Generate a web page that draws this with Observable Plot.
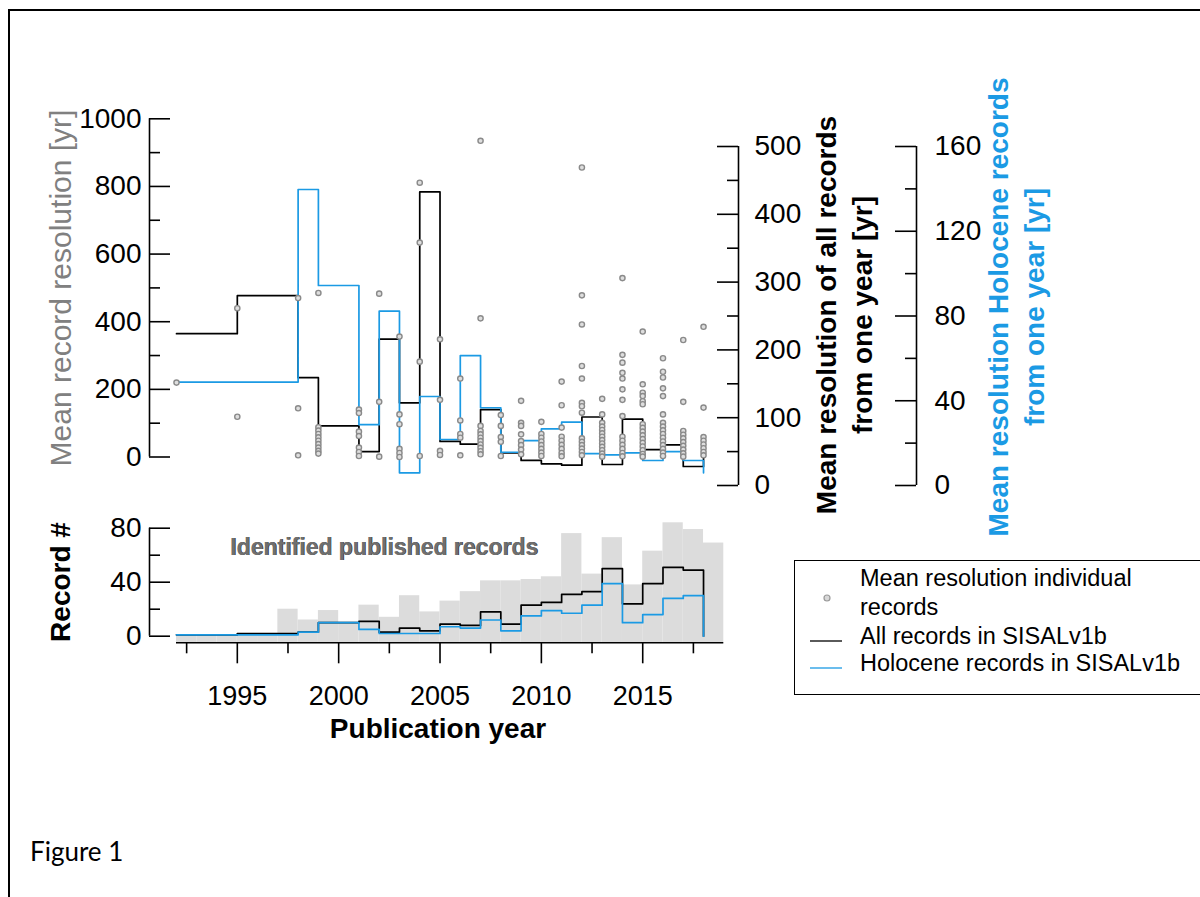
<!DOCTYPE html>
<html><head><meta charset="utf-8">
<script src="https://cdn.jsdelivr.net/npm/d3@7"></script>
<script src="https://cdn.jsdelivr.net/npm/@observablehq/plot@0.6"></script>
<style>
body{margin:0;background:#fff;}
#fig{position:relative;width:1200px;height:897px;overflow:hidden;font-family:"Liberation Sans",Arial,sans-serif;background:#fff;}
#fig svg{position:absolute;left:0;top:0;overflow:visible;font-family:"Liberation Sans",Arial,sans-serif;max-width:none;}
.t{position:absolute;white-space:nowrap;line-height:1;}
.rot{transform:translate(-50%,-50%) rotate(-90deg);}
.ctr{transform:translate(-50%,-50%);}
.lft{transform:translate(0,-50%);}
</style></head><body><div id="fig"></div><script>
// ---------------- data ----------------
const years = [1992,1995,1998,1999,2000,2001,2002,2003,2004,2005,2006,2007,2008,2009,2010,2011,2012,2013,2014,2015,2016,2017,2018];
const allResolution  = [224,280,159,88,88,50,216,122,433,65,61,112,48,37,32,30,101,31,98,53,60,28,48];
const holoResolution = [48.8,48.8,139.7,94.4,94.4,28.7,82.3,6,42,21.7,61.3,36.7,15.7,21.2,26.7,29.9,15,14.5,15.4,11.8,16,11.8,6];
const allCount  = [1,2,3,10,10,11,3,6,4,9,8,18,9,23,25,31,33,50,24,39,51,49,0];
const holoCount = [1,1,3,10,10,5,2,2,2,7,6,12,4,15,19,17,23,39,10,16,28,30,0];
const identYears = [1992,1993,1994,1995,1996,1997,1998,1999,2000,2001,2002,2003,2004,2005,2006,2007,2008,2009,2010,2011,2012,2013,2014,2015,2016,2017,2018];
const identCount = [1,1,1,2,2,20,12,19,10,23,14,30,18,26,33,41,41,42,44,76,46,73,38,63,84,79,69];
const dotYears = [1992,1995,1998,1999,2001,2002,2003,2004,2005,2006,2007,2008,2009,2010,2011,2012,2013,2014,2015,2016,2017,2018];
const dotValues = [
  [220],
  [440,119],
  [470,144,5],
  [485,88,78,68,58,48,38,28,18,10],
  [140,130,75,62,28,15,3],
  [483,163,1],
  [356,126,97,24,12,0],
  [811,634,282,3],
  [348,169,18,6],
  [232,108,68,57,5],
  [935,410,92,77,67,57,47,37,27,17,8],
  [124,92,59,45,3],
  [166,101,92,67,47,35,22,8],
  [104,68,57,46,35,24,13,3],
  [223,153,87,60,48,36,24,12,2],
  [856,478,392,269,232,160,150,131,55,45,35,25,15,5],
  [172,126,101,90,80,70,60,50,40,30,20,10,1],
  [529,302,279,249,232,200,169,121,60,48,36,24,12,2],
  [371,215,190,180,165,156,97,86,75,64,53,42,31,20,9,1],
  [292,252,235,203,180,126,101,90,79,68,57,46,35,24,13,3],
  [346,163,77,66,55,44,33,22,11,1],
  [385,146,59,48,37,26,15,5]
];
const leftTicks = [0,200,400,600,800,1000];
const leftMinor = [100,300,500,700,900];
const allTicks = [0,100,200,300,400,500];
const allMinor = [50,150,250,350,450];
const holoTicks = [0,40,80,120,160];
const holoMinor = [20,60,100,140];
const countTicks = [0,40,80];
const countMinor = [20,60];
const yearTicks = [1995,2000,2005,2010,2015];
const yearMinor = [1992.5,1997.5,2002.5,2007.5,2012.5,2017.5];

// ---------------- layout ----------------
const W = 1200, H = 897;
const BLUE = "#1b9ae4";
const xDomain = [1992, 2019];
const xRange = [176, 723.3];
const fig = document.getElementById("fig");

const series = years.map((y,i)=>({year:y, all:allResolution[i], holo:holoResolution[i], nAll:allCount[i], nHolo:holoCount[i]}));
const ident = identYears.map((y,i)=>({year:y, n:identCount[i]}));
const dots = dotYears.flatMap((y,i)=>dotValues[i].map(v=>({year:y, v})));

function layer(opts){
  const svg = Plot.plot({width:W, height:H, marginLeft:0, marginRight:0, marginTop:0, marginBottom:0, ...opts});
  fig.appendChild(svg);
}
function axisLayer({left, top, bottom, domain, majors, minors, side, padding}){
  const isLeft = side === "left";
  layer({
    marginLeft:left, marginRight:W-(left+21), marginTop:top, marginBottom:H-bottom,
    x:{domain:[0,1], axis:null}, y:{domain, axis:null},
    marks:[
      Plot.ruleX([isLeft?0:1], {stroke:"#000", strokeWidth:1.6}),
      Plot.tickY(majors, {stroke:"#000", strokeWidth:1.6}),
      Plot.tickY(minors, {stroke:"#000", strokeWidth:1.6, insetRight:isLeft?10:0, insetLeft:isLeft?0:10}),
      Plot.axisY(majors, {anchor:side, tickSize:0, tickPadding:padding, fontSize:28, label:null, tickFormat:d=>String(d)})
    ]
  });
}

// top panel axes
axisLayer({left:149, top:118.3, bottom:456.5, domain:[0,1000], majors:leftTicks, minors:leftMinor, side:"left", padding:8});
axisLayer({left:717, top:146, bottom:485, domain:[0,500], majors:allTicks, minors:allMinor, side:"right", padding:16});
axisLayer({left:895, top:146, bottom:485, domain:[0,160], majors:holoTicks, minors:holoMinor, side:"right", padding:18});
// bottom panel y axis
axisLayer({left:149, top:527.7, bottom:635.7, domain:[0,80], majors:countTicks, minors:countMinor, side:"left", padding:8});

// bottom panel data
const cntBase = -(642.3-635.7)/((635.7-527.7)/80);
layer({
  x:{domain:xDomain, range:xRange, axis:null},
  y:{domain:[0,80], range:[635.7,527.7], axis:null},
  marks:[
    Plot.rectY(ident, {x1:"year", x2:d=>d.year+1, y1:()=>cntBase, y2:"n", fill:"#dcdcdc"}),
    Plot.line(series, {x:"year", y:"nAll", curve:"step-after", stroke:"#000", strokeWidth:1.7}),
    Plot.line(series, {x:"year", y:"nHolo", curve:"step-after", stroke:BLUE, strokeWidth:1.7})
  ]
});
// bottom x axis
layer({
  marginLeft:xRange[0], marginRight:W-xRange[1], marginTop:642.3, marginBottom:H-663.3,
  x:{domain:xDomain, axis:null}, y:{domain:[0,1], axis:null},
  marks:[
    Plot.ruleY([1], {stroke:"#000", strokeWidth:1.6}),
    Plot.tickX(yearTicks, {stroke:"#000", strokeWidth:1.6}),
    Plot.tickX(yearMinor, {stroke:"#000", strokeWidth:1.6, insetBottom:10}),
    Plot.axisX(yearTicks, {anchor:"bottom", tickSize:0, tickPadding:22, fontSize:27, label:null, tickFormat:d=>String(d)})
  ]
});

// top panel data
layer({
  x:{domain:xDomain, range:xRange, axis:null},
  y:{domain:[0,500], range:[485,146], axis:null},
  marks:[Plot.line(series, {x:"year", y:"all", curve:"step-after", stroke:"#000", strokeWidth:1.7})]
});
layer({
  x:{domain:xDomain, range:xRange, axis:null},
  y:{domain:[0,160], range:[485,146], axis:null},
  marks:[Plot.line(series, {x:"year", y:"holo", curve:"step-after", stroke:BLUE, strokeWidth:1.7})]
});
layer({
  x:{domain:xDomain, range:xRange, axis:null},
  y:{domain:[0,1000], range:[456.5,118.3], axis:null},
  marks:[Plot.dot(dots, {x:"year", y:"v", r:2.6, stroke:"#8a8a8a", fill:"#dedede", strokeWidth:1.4})]
});

// ---------------- texts ----------------
function text(str, x, y, cls, style){
  const d = document.createElement("div");
  d.className = "t " + cls;
  d.textContent = str;
  d.style.left = x + "px"; d.style.top = y + "px";
  Object.assign(d.style, style || {});
  fig.appendChild(d);
  return d;
}
text("Mean record resolution [yr]", 61, 288, "rot", {fontSize:"30px", color:"#808080"});
text("Mean resolution of all records", 827, 315, "rot", {fontSize:"28px", fontWeight:"bold"});
text("from one year [yr]", 863, 315, "rot", {fontSize:"28px", fontWeight:"bold"});
text("Mean resolution Holocene records", 999, 307, "rot", {fontSize:"28px", fontWeight:"bold", color:BLUE});
text("from one year [yr]", 1035, 307, "rot", {fontSize:"28px", fontWeight:"bold", color:BLUE});
text("Record #", 61, 582, "rot", {fontSize:"28px", fontWeight:"bold"});
text("Identified published records", 230, 547, "lft", {fontSize:"23px", fontWeight:"bold", color:"#6f6f6f", textShadow:"0.7px 0.7px 0 #3a3a3a"});
text("Publication year", 438, 729, "ctr", {fontSize:"28px", fontWeight:"bold"});
text("Figure 1", 30, 851, "lft", {fontSize:"26px", fontFamily:"Lato, 'Open Sans', sans-serif"});

// figure border
const border = document.createElement("div");
Object.assign(border.style, {position:"absolute", left:"8px", top:"9px", width:"1300px", height:"1000px", borderLeft:"2px solid #000", borderTop:"2px solid #000"});
fig.appendChild(border);

// legend
const leg = document.createElement("div");
Object.assign(leg.style, {position:"absolute", left:"794px", top:"560px", width:"440px", height:"133px", border:"1.5px solid #000", background:"#fff"});
fig.appendChild(leg);
const legSvg = d3.create("svg").attr("width", W).attr("height", H);
legSvg.append("circle").attr("cx", 827).attr("cy", 598).attr("r", 3).attr("fill", "#d8d8d8").attr("stroke", "#9a9a9a").attr("stroke-width", 1.2);
legSvg.append("line").attr("x1", 810).attr("x2", 842).attr("y1", 641).attr("y2", 641).attr("stroke", "#000").attr("stroke-width", 1.3);
legSvg.append("line").attr("x1", 810).attr("x2", 842).attr("y1", 668).attr("y2", 668).attr("stroke", BLUE).attr("stroke-width", 1.3);
fig.appendChild(legSvg.node());
const legFont = {fontSize:"23.5px"};
text("Mean resolution individual", 860, 579, "lft", legFont);
text("records", 860, 608, "lft", legFont);
text("All records in SISALv1b", 860, 637, "lft", legFont);
text("Holocene records in SISALv1b", 860, 664, "lft", legFont);
</script></body></html>
